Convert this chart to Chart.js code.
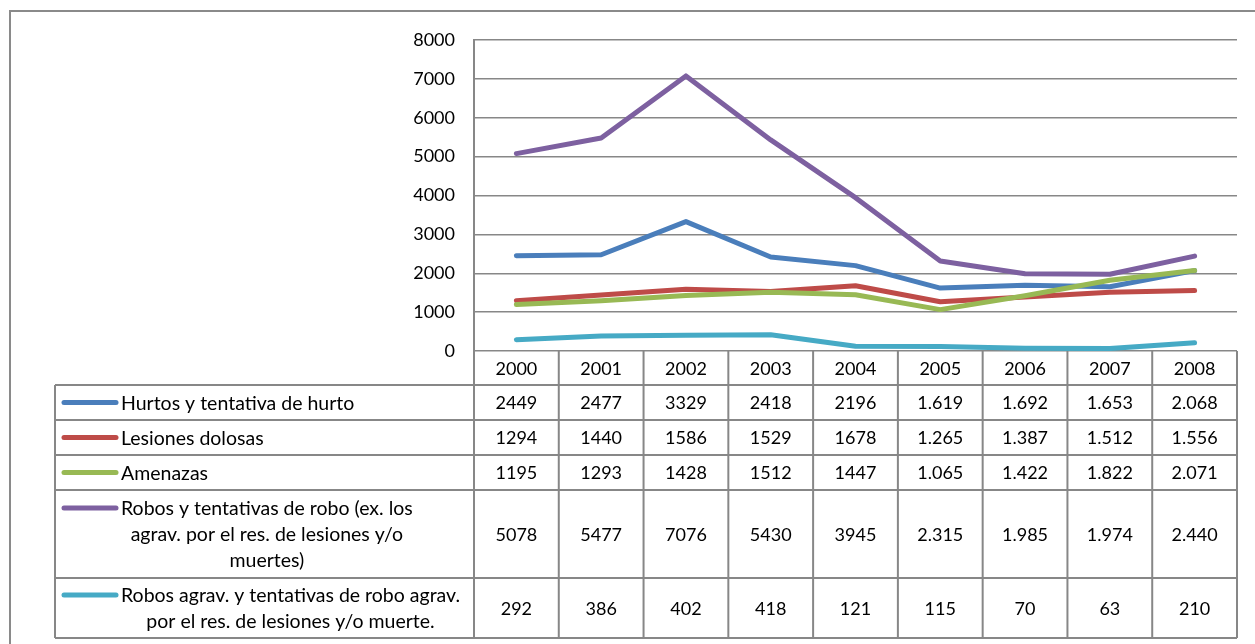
<!DOCTYPE html>
<html lang="es">
<head>
  <meta charset="UTF-8">
  <title>Delitos 2000-2008</title>
  <script src="https://cdn.jsdelivr.net/npm/chart.js"></script>
  <style>
    html, body { margin: 0; padding: 0; background: white; }
    #chart { display: block; }
  </style>
</head>
<body>
  <canvas id="chart" width="1255" height="644"></canvas>

  <script>
    // datos
    const years = ['2000','2001','2002','2003','2004','2005','2006','2007','2008'];
    const hurtos     = [2449, 2477, 3329, 2418, 2196, 1619, 1692, 1653, 2068];
    const lesiones   = [1294, 1440, 1586, 1529, 1678, 1265, 1387, 1512, 1556];
    const amenazas   = [1195, 1293, 1428, 1512, 1447, 1065, 1422, 1822, 2071];
    const robos      = [5078, 5477, 7076, 5430, 3945, 2315, 1985, 1974, 2440];
    const robosAgrav = [292, 386, 402, 418, 121, 115, 70, 63, 210];
    const yTicks = [0, 1000, 2000, 3000, 4000, 5000, 6000, 7000, 8000];
    // desde 2005 la tabla usa punto de miles
    const dotFromYear = 5;

    const seriesNames = [
      ['Hurtos y tentativa de hurto'],
      ['Lesiones dolosas'],
      ['Amenazas'],
      ['Robos y tentativas de robo (ex. los', 'agrav. por el res. de lesiones y/o', 'muertes)'],
      ['Robos agrav. y tentativas de robo agrav.', 'por el res. de lesiones y/o muerte.']
    ];
    const seriesData = [hurtos, lesiones, amenazas, robos, robosAgrav];
    const seriesColors = ['#4a7ebb', '#be4b48', '#98b954', '#7d60a0', '#46aac5'];

    const FAMILY = 'Lato, "Open Sans", sans-serif';
    const NUM_FONT = '18px ' + FAMILY;
    const TXT_FONT = '19.5px ' + FAMILY;
    const GRID = '#878787';

    function fmt(v, i) {
      if (i >= dotFromYear && v >= 1000) {
        return Math.floor(v / 1000) + '.' + String(v % 1000).padStart(3, '0');
      }
      return String(v);
    }

    const tablePlugin = {
      id: 'dataTable',
      afterDraw(chart) {
        const ctx = chart.ctx;
        const xs = chart.scales.x;
        const area = chart.chartArea;
        const colW = (area.right - area.left) / years.length;
        const rowH = [34, 35, 35, 35, 88, 60];
        const tableLeft = 55;
        const keyX1 = 64, keyX2 = 116, textX = 121;

        // limites de filas
        const ys = [area.bottom];
        rowH.forEach(h => ys.push(ys[ys.length - 1] + h));
        const bottom = ys[ys.length - 1];

        ctx.save();
        ctx.strokeStyle = GRID;
        ctx.lineWidth = 2;
        // horizontales
        ys.forEach((y, k) => {
          if (k === 0) return;
          ctx.beginPath();
          ctx.moveTo(tableLeft, y);
          ctx.lineTo(area.right, y);
          ctx.stroke();
        });
        // verticales
        for (let i = 0; i <= years.length; i++) {
          const x = area.left + i * colW;
          ctx.beginPath();
          ctx.moveTo(x, area.bottom);
          ctx.lineTo(x, bottom);
          ctx.stroke();
        }
        ctx.beginPath();
        ctx.moveTo(tableLeft, ys[1]);
        ctx.lineTo(tableLeft, bottom);
        ctx.stroke();

        // marco exterior
        ctx.strokeStyle = '#8a8a8a';
        ctx.beginPath();
        ctx.moveTo(10, chart.height);
        ctx.lineTo(10, 11);
        ctx.lineTo(chart.width, 11);
        ctx.stroke();

        ctx.fillStyle = '#000';
        ctx.textBaseline = 'middle';
        ctx.textAlign = 'center';

        // cabecera de años
        ctx.font = NUM_FONT;
        years.forEach((yr, i) => {
          ctx.fillText(yr, xs.getPixelForValue(i), (ys[0] + ys[1]) / 2 + 1);
        });

        // filas de series
        seriesData.forEach((data, s) => {
          const top = ys[s + 1], bot = ys[s + 2];
          const mid = (top + bot) / 2 + 1;
          ctx.font = NUM_FONT;
          ctx.textAlign = 'center';
          data.forEach((v, i) => {
            ctx.fillText(fmt(v, i), xs.getPixelForValue(i), mid);
          });

          const lines = seriesNames[s];
          const lh = 26;
          const firstY = mid - (lines.length - 1) * lh / 2;
          // clave de leyenda
          ctx.strokeStyle = seriesColors[s];
          ctx.lineWidth = 5;
          ctx.lineCap = 'round';
          ctx.beginPath();
          ctx.moveTo(keyX1, firstY - 1);
          ctx.lineTo(keyX2, firstY - 1);
          ctx.stroke();

          ctx.font = TXT_FONT;
          const maxW = Math.max(...lines.map(t => ctx.measureText(t).width));
          const cx = textX + maxW / 2;
          lines.forEach((t, k) => ctx.fillText(t, cx, firstY + k * lh));
        });
        ctx.restore();
      }
    };

    new Chart(document.getElementById('chart'), {
      type: 'line',
      data: {
        labels: years,
        datasets: seriesData.map((d, i) => ({
          label: seriesNames[i].join(' '),
          data: d,
          borderColor: seriesColors[i],
          backgroundColor: seriesColors[i],
          borderWidth: 5,
          borderCapStyle: 'round',
          borderJoinStyle: 'round',
          pointRadius: 0,
          tension: 0,
          fill: false,
          order: seriesData.length - i
        }))
      },
      options: {
        responsive: false,
        animation: false,
        layout: { padding: { left: 0, right: 18, top: 40, bottom: 293 } },
        plugins: {
          legend: { display: false },
          tooltip: { enabled: false },
          title: { display: false }
        },
        scales: {
          x: {
            display: false,
            offset: true
          },
          y: {
            min: 0,
            max: 8000,
            afterFit(scale) { scale.width = 474; },
            afterBuildTicks(scale) { scale.ticks = yTicks.map(v => ({ value: v })); },
            ticks: {
              padding: 19,
              color: '#000',
              font: { family: FAMILY, size: 18 },
              callback: v => String(v)
            },
            grid: {
              color: GRID,
              lineWidth: 1.5,
              drawTicks: false
            },
            border: { color: GRID, width: 2 }
          }
        }
      },
      plugins: [tablePlugin]
    });
  </script>
</body>
</html>
